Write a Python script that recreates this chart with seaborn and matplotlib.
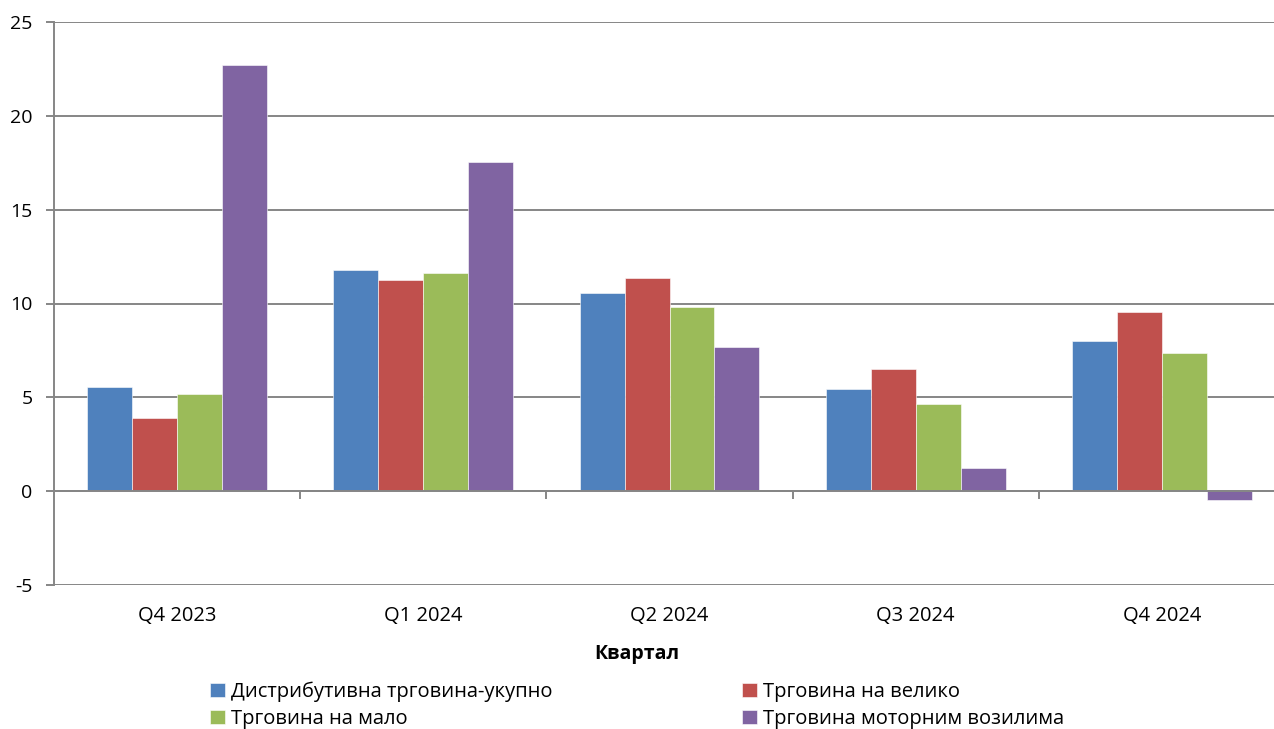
import pandas as pd
import seaborn as sns
import matplotlib.pyplot as plt

# Quarterly data
quarters = ['Q4 2023', 'Q1 2024', 'Q2 2024', 'Q3 2024', 'Q4 2024']
series = ['Дистрибутивна трговина-укупно', 'Трговина на велико',
          'Трговина на мало', 'Трговина моторним возилима']
total = [5.55, 11.8, 10.57, 5.45, 8.02]
wholesale = [3.9, 11.26, 11.38, 6.53, 9.57]
retail = [5.18, 11.63, 9.83, 4.65, 7.37]
motor = [22.7, 17.56, 7.7, 1.25, -0.48]
colors = ['#4F81BD', '#C0504D', '#9BBB59', '#8064A2']

df = pd.DataFrame({'Квартал': quarters * 4,
                   'Серија': [s for s in series for _ in quarters],
                   'Вредност': total + wholesale + retail + motor})

sns.set_theme(style='white')
plt.rcParams['font.family'] = ['Open Sans', 'DejaVu Sans']
plt.rcParams['axes.unicode_minus'] = False
plt.rcParams['text.color'] = 'black'
plt.rcParams['xtick.labelcolor'] = 'black'
plt.rcParams['ytick.labelcolor'] = 'black'
plt.rcParams['axes.labelcolor'] = 'black'

fig = plt.figure(figsize=(12.74, 7.29), dpi=100)
ax = fig.add_axes([54 / 1274, 1 - 585 / 729, 1231 / 1274, 563 / 729])

sns.barplot(data=df, x='Квартал', y='Вредност', hue='Серија', palette=colors,
            width=0.73, saturation=1, edgecolor='white', linewidth=0.4, ax=ax)

ax.set_ylim(-5, 25)
ax.set_xlim(-0.5, 4.5)
ax.set_yticks(range(-5, 26, 5))
ax.yaxis.grid(True, color='#868686', linewidth=1.4)
ax.set_axisbelow(True)

for s in ['top', 'right']:
    ax.spines[s].set_visible(False)
ax.spines['left'].set_color('#868686')
ax.spines['left'].set_linewidth(1.4)
ax.spines['bottom'].set_position(('data', 0))
ax.spines['bottom'].set_color('#868686')
ax.spines['bottom'].set_linewidth(1.4)

ax.set_xticks([i + 0.5 for i in range(len(quarters) - 1)], minor=True)
ax.tick_params(axis='x', which='minor', length=6, width=1.4, color='#868686',
               direction='out', bottom=True)
ax.tick_params(axis='x', which='major', length=0, pad=83, labelsize=14.5)
ax.tick_params(axis='y', length=6, width=1.4, color='#868686', left=True,
               labelsize=14, pad=9.5)

ax.set_xlabel('Квартал', fontsize=14, fontweight='bold')
ax.xaxis.set_label_coords((637 - 54) / 1231, -0.105)
ax.set_ylabel('')

handles, labels = ax.get_legend_handles_labels()
ax.get_legend().remove()
order = [0, 2, 1, 3]
fig.legend([handles[i] for i in order], [labels[i] for i in order],
           loc='lower center', bbox_to_anchor=(0.5, -0.025), ncol=2,
           frameon=False, fontsize=14.5, handlelength=0.75, handleheight=0.75,
           handletextpad=0.3, columnspacing=9.4, labelspacing=0.35)

plt.savefig('out.png', dpi=100)
